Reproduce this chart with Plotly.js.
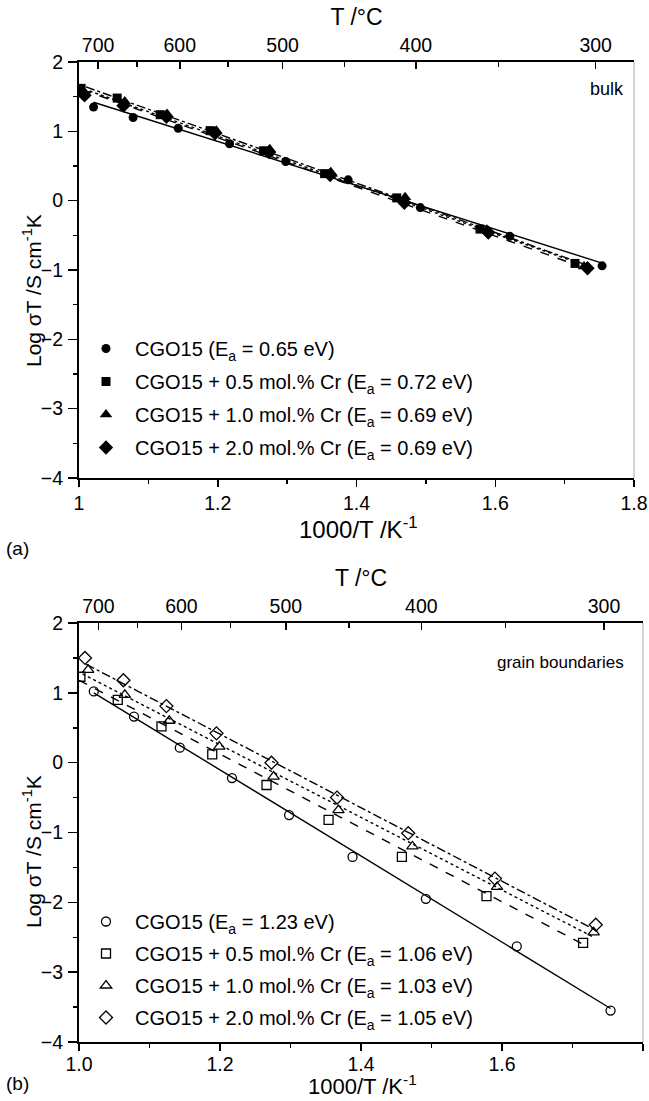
<!DOCTYPE html>
<html>
<head>
<meta charset="utf-8">
<script src="https://cdn.plot.ly/plotly-3.0.1.min.js"></script>
<style>
  html, body { margin: 0; padding: 0; background: #fff; }
  #chart { width: 649px; height: 1101px; }
</style>
</head>
<body>
<div id="chart"></div>
<script>
// ---------- data ----------
// temperature axis labels (°C) shown on the top axes
const tempMajor = [700, 600, 500, 400, 300];
const tempMinor = [650, 550, 450, 350];

const xTickVals = [1.0, 1.2, 1.4, 1.6, 1.8];
const xTickTextA = ['1', '1.2', '1.4', '1.6', '1.8'];
const xTickTextB = ['1.0', '1.2', '1.4', '1.6', '1.8'];
const yTickVals = [-4, -3, -2, -1, 0, 1, 2];

const seriesNames = [
  'CGO15',
  'CGO15 + 0.5 mol.% Cr',
  'CGO15 + 1.0 mol.% Cr',
  'CGO15 + 2.0 mol.% Cr'
];
const eaBulk = ['0.65', '0.72', '0.69', '0.69'];
const eaGB = ['1.23', '1.06', '1.03', '1.05'];

// (a) bulk
const bulkX0 = [1.021, 1.078, 1.143, 1.217, 1.298, 1.388, 1.492, 1.621, 1.754];
const bulkY0 = [1.35, 1.20, 1.045, 0.82, 0.565, 0.30, -0.10, -0.515, -0.94];
const bulkX1 = [1.003, 1.055, 1.117, 1.189, 1.266, 1.354, 1.458, 1.578, 1.715];
const bulkY1 = [1.62, 1.48, 1.24, 1.01, 0.72, 0.39, 0.04, -0.41, -0.905];
const bulkX2 = [1.007, 1.066, 1.127, 1.198, 1.275, 1.363, 1.470, 1.588, 1.728];
const bulkY2 = [1.57, 1.43, 1.25, 1.01, 0.74, 0.41, 0.05, -0.42, -0.95];
const bulkX3 = [1.008, 1.064, 1.126, 1.196, 1.274, 1.362, 1.469, 1.590, 1.733];
const bulkY3 = [1.52, 1.37, 1.21, 0.97, 0.70, 0.37, -0.03, -0.46, -0.975];

// (a) fitted lines (end points)
const bulkFitX0 = [1.021, 1.754];
const bulkFitY0 = [1.42, -0.90];
const bulkFitX1 = [1.005, 1.715];
const bulkFitY1 = [1.60, -0.92];
const bulkFitX2 = [1.007, 1.728];
const bulkFitY2 = [1.61, -0.93];
const bulkFitX3 = [1.010, 1.735];
const bulkFitY3 = [1.64, -0.94];

// (b) grain boundaries
const gbX0 = [1.021, 1.078, 1.143, 1.217, 1.298, 1.388, 1.492, 1.621, 1.754];
const gbY0 = [1.02, 0.66, 0.215, -0.22, -0.75, -1.35, -1.95, -2.63, -3.55];
const gbX1 = [1.002, 1.055, 1.117, 1.189, 1.266, 1.354, 1.458, 1.578, 1.715];
const gbY1 = [1.23, 0.90, 0.52, 0.12, -0.32, -0.82, -1.35, -1.91, -2.58];
const gbX2 = [1.013, 1.065, 1.128, 1.199, 1.276, 1.368, 1.473, 1.593, 1.730];
const gbY2 = [1.33, 0.97, 0.60, 0.23, -0.20, -0.68, -1.20, -1.78, -2.43];
const gbX3 = [1.0085, 1.063, 1.124, 1.195, 1.273, 1.366, 1.467, 1.590, 1.733];
const gbY3 = [1.50, 1.18, 0.81, 0.42, 0.00, -0.50, -1.01, -1.66, -2.32];

// (b) fitted lines
const gbFitX0 = [1.021, 1.754];
const gbFitY0 = [1.00, -3.52];
const gbFitX1 = [1.000, 1.715];
const gbFitY1 = [1.18, -2.60];
const gbFitX2 = [1.005, 1.730];
const gbFitY2 = [1.27, -2.50];
const gbFitX3 = [1.010, 1.735];
const gbFitY3 = [1.41, -2.41];

// ---------- styling ----------
const FONT = 'Liberation Sans, Arial, Helvetica, sans-serif';
const W = 649, H = 1101;
const dashes = ['solid', 'dash', 'dot', 'dashdot'];
const symFilled = ['circle', 'square', 'triangle-up', 'diamond'];
const symOpen = ['circle-open', 'square-open', 'triangle-up-open', 'diamond-open'];
const symSizeA = [9, 9, 11, 11];
const symSizeB = [9, 9, 10, 10];

const toInv = t => 1000 / (t + 273.15);   // axis conversion °C -> 1000/T

const bulkX = [bulkX0, bulkX1, bulkX2, bulkX3];
const bulkY = [bulkY0, bulkY1, bulkY2, bulkY3];
const bulkFX = [bulkFitX0, bulkFitX1, bulkFitX2, bulkFitX3];
const bulkFY = [bulkFitY0, bulkFitY1, bulkFitY2, bulkFitY3];
const gbX = [gbX0, gbX1, gbX2, gbX3];
const gbY = [gbY0, gbY1, gbY2, gbY3];
const gbFX = [gbFitX0, gbFitX1, gbFitX2, gbFitX3];
const gbFY = [gbFitY0, gbFitY1, gbFitY2, gbFitY3];

const traces = [];
for (let i = 0; i < 4; i++) {
  traces.push({
    x: bulkFX[i], y: bulkFY[i], xaxis: 'x', yaxis: 'y', mode: 'lines',
    line: {color: '#000', width: 1.4, dash: dashes[i]},
    showlegend: false, hoverinfo: 'skip'
  });
}
for (let i = 0; i < 4; i++) {
  traces.push({
    x: bulkX[i], y: bulkY[i], xaxis: 'x', yaxis: 'y', mode: 'markers',
    name: seriesNames[i] + ' (E<sub>a</sub> = ' + eaBulk[i] + ' eV)',
    legend: 'legend', legendgroup: 'a' + i,
    marker: {symbol: symFilled[i], size: symSizeA[i], color: '#000', line: {width: 0}}
  });
}
for (let i = 0; i < 4; i++) {
  traces.push({
    x: gbFX[i], y: gbFY[i], xaxis: 'x2', yaxis: 'y2', mode: 'lines',
    line: {color: '#000', width: 1.4, dash: dashes[i]},
    showlegend: false, hoverinfo: 'skip'
  });
}
for (let i = 0; i < 4; i++) {
  traces.push({
    x: gbX[i], y: gbY[i], xaxis: 'x2', yaxis: 'y2', mode: 'markers',
    name: seriesNames[i] + ' (E<sub>a</sub> = ' + eaGB[i] + ' eV)',
    legend: 'legend2', legendgroup: 'b' + i,
    marker: {symbol: symOpen[i], size: symSizeB[i], color: '#000', line: {width: 1.3, color: '#000'}}
  });
}
// invisible companions so that the top (°C) axes get drawn
traces.push({x: bulkX0, y: bulkY0, xaxis: 'x3', yaxis: 'y', mode: 'markers',
  marker: {opacity: 0}, showlegend: false, hoverinfo: 'skip'});
traces.push({x: gbX0, y: gbY0, xaxis: 'x4', yaxis: 'y2', mode: 'markers',
  marker: {opacity: 0}, showlegend: false, hoverinfo: 'skip'});

// panel geometry (pixels)
const pA = {l: 79, r: 634, t: 62, b: 478};
const pB = {l: 79, r: 643, t: 623, b: 1042};
const dx = p => [p.l / W, p.r / W];
const dy = p => [1 - p.b / H, 1 - p.t / H];

const tickFont = {family: FONT, size: 19.5, color: '#000'};
const titleFont = {family: FONT, size: 24, color: '#000'};

function bottomX(domain, anchor, text, labelStandoff) {
  return {
    domain: domain, anchor: anchor, range: [1, 1.8], fixedrange: true,
    tickmode: 'array', tickvals: xTickVals, ticktext: text,
    ticks: 'outside', ticklen: 7, tickwidth: 1.5, tickcolor: '#000',
    minor: {dtick: 0.1, tick0: 1, ticks: 'outside', ticklen: 4, tickwidth: 1.5, tickcolor: '#000'},
    showline: true, linewidth: 2, linecolor: '#000', showgrid: false, zeroline: false,
    tickfont: tickFont, ticklabelstandoff: labelStandoff,
    automargin: false
  };
}
function leftY(domain, anchor) {
  return {
    domain: domain, anchor: anchor, range: [-4, 2], fixedrange: true,
    tickmode: 'array', tickvals: yTickVals,
    ticks: 'outside', ticklen: 9, tickwidth: 1.5, tickcolor: '#000',
    minor: {tickvals: [-3.5, -2.5, -1.5, -0.5, 0.5, 1.5], ticks: 'outside', ticklen: 4, tickwidth: 1.5, tickcolor: '#000'},
    showline: true, linewidth: 2, linecolor: '#000', showgrid: false, zeroline: false,
    tickfont: tickFont, ticklabelstandoff: 1,
    automargin: false
  };
}
function topX(overlay, anchor) {
  return {
    overlaying: overlay, anchor: anchor, side: 'top', range: [1, 1.8], fixedrange: true,
    tickmode: 'array', tickvals: tempMajor.map(toInv), ticktext: tempMajor.map(String),
    ticks: 'inside', ticklen: 7, tickwidth: 1.5, tickcolor: '#000',
    minor: {tickvals: tempMinor.map(toInv), ticks: 'inside', ticklen: 5, tickwidth: 1.5, tickcolor: '#000'},
    showline: true, linewidth: 2, linecolor: '#000', showgrid: false, zeroline: false,
    tickfont: tickFont,
    title: {text: 'T /\u00b0C', font: {family: FONT, size: 23, color: '#000'}, standoff: 2},
    automargin: false
  };
}

const yTitle = 'Log \u03c3T /S cm<sup>-1</sup>K';
const xTitle = '1000/T /K<sup>-1</sup>';

const layout = {
  width: W, height: H,
  margin: {l: 0, r: 0, t: 0, b: 0, pad: 0},
  paper_bgcolor: '#fff', plot_bgcolor: '#fff',
  font: {family: FONT, size: 19, color: '#000'},
  showlegend: true,
  xaxis: bottomX(dx(pA), 'y', xTickTextA, 0),
  yaxis: leftY(dy(pA), 'x'),
  xaxis3: topX('x', 'y'),
  xaxis2: bottomX(dx(pB), 'y2', xTickTextB, -3),
  yaxis2: leftY(dy(pB), 'x2'),
  xaxis4: topX('x2', 'y2'),
  legend: {
    x: 77 / W, y: 1 - 329 / H, xanchor: 'left', yanchor: 'top',
    bgcolor: 'rgba(0,0,0,0)', borderwidth: 0, traceorder: 'grouped', tracegroupgap: 4,
    itemwidth: 48,
    font: {family: FONT, size: 20, color: '#000'}, itemclick: false
  },
  legend2: {
    x: 77 / W, y: 1 - 902 / H, xanchor: 'left', yanchor: 'top',
    bgcolor: 'rgba(0,0,0,0)', borderwidth: 0, traceorder: 'grouped', tracegroupgap: 3,
    itemwidth: 48,
    font: {family: FONT, size: 20, color: '#000'}, itemclick: false
  },
  shapes: [
    {type: 'line', xref: 'x domain', yref: 'y domain', x0: 1, x1: 1, y0: 0, y1: 1, line: {color: '#bbb', width: 1.2}},
    {type: 'line', xref: 'x2 domain', yref: 'y2 domain', x0: 1, x1: 1, y0: 0, y1: 1, line: {color: '#bbb', width: 1.2}}
  ],
  annotations: [
    {text: xTitle, xref: 'paper', yref: 'paper', x: 358 / W, y: 1 - 528 / H, borderpad: 0,
     xanchor: 'center', yanchor: 'middle', showarrow: false, font: titleFont},
    {text: xTitle, xref: 'paper', yref: 'paper', x: 362 / W, y: 1 - 1100 / H, borderpad: 0,
     xanchor: 'center', yanchor: 'bottom', showarrow: false, font: {family: FONT, size: 22, color: '#000'}},
    {text: yTitle, textangle: -90, xref: 'paper', yref: 'paper', x: 32 / W, y: 1 - 291 / H,
     xanchor: 'center', yanchor: 'middle', showarrow: false, font: {family: FONT, size: 21, color: '#000'}},
    {text: yTitle, textangle: -90, xref: 'paper', yref: 'paper', x: 32 / W, y: 1 - 852 / H,
     xanchor: 'center', yanchor: 'middle', showarrow: false, font: {family: FONT, size: 21, color: '#000'}},
    {text: 'bulk', xref: 'x domain', yref: 'y domain', x: 0.985, y: 0.935, xanchor: 'right', yanchor: 'middle',
     showarrow: false, font: {family: FONT, size: 18, color: '#000'}},
    {text: 'grain boundaries', xref: 'x2 domain', yref: 'y2 domain', x: 0.97, y: 0.905, xanchor: 'right', yanchor: 'middle',
     showarrow: false, font: {family: FONT, size: 17, color: '#000'}},
    {text: '(a)', xref: 'paper', yref: 'paper', x: 4 / W, y: 1 - 548 / H, xanchor: 'left', yanchor: 'middle',
     showarrow: false, font: {family: FONT, size: 19, color: '#000'}},
    {text: '(b)', xref: 'paper', yref: 'paper', x: 4 / W, y: 1 - 1083 / H, xanchor: 'left', yanchor: 'middle',
     showarrow: false, font: {family: FONT, size: 19, color: '#000'}}
  ]
};

Plotly.newPlot('chart', traces, layout, {staticPlot: true, displayModeBar: false});
</script>
</body>
</html>
